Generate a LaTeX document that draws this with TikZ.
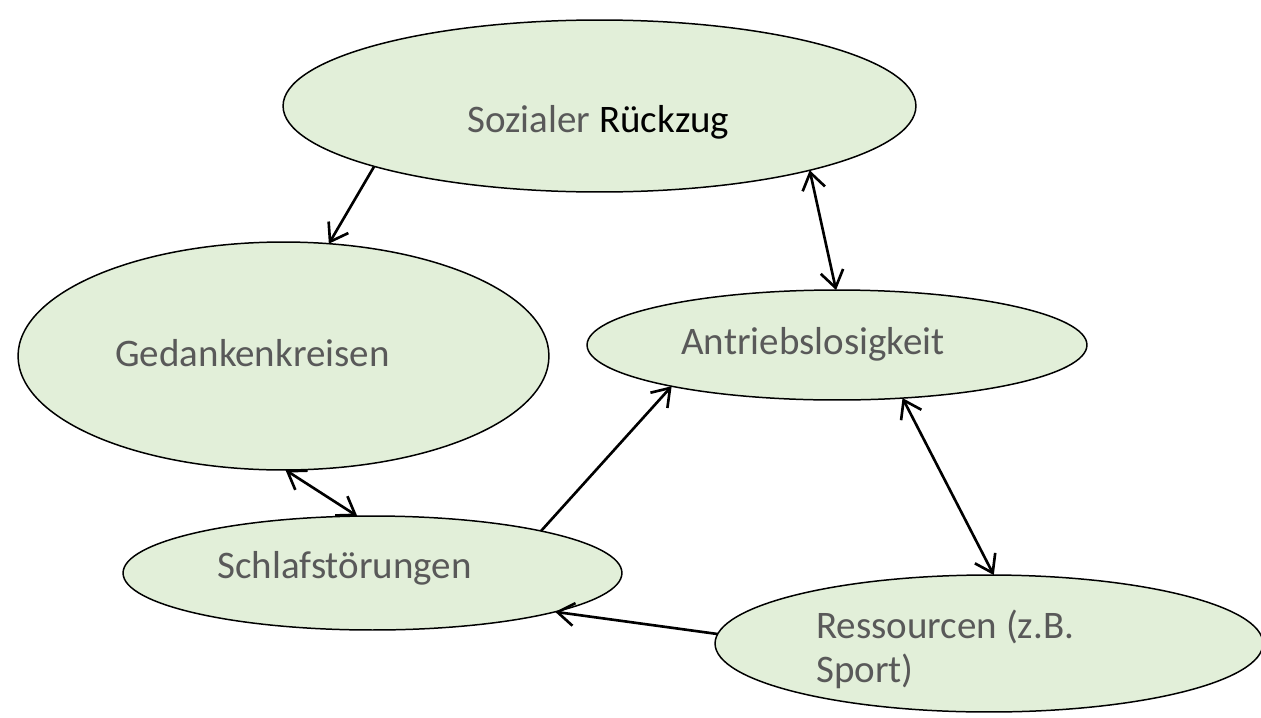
\documentclass[tikz,border=0pt]{standalone}
\usepackage{fontspec}
\setmainfont{Carlito}
\usetikzlibrary{arrows.meta,shapes.geometric}
\definecolor{bubble}{HTML}{E2EFD9}
\definecolor{txtgray}{HTML}{595959}
\tikzset{
    blob/.style={ellipse, draw, fill=bubble, line width=0.85pt, inner sep=0, outer sep=0},
    word/.style={anchor=base west, inner sep=0, text=txtgray, font=\fontsize{22.2}{24.5}\selectfont},
    post/.style= {-{Straight Barb[length=9.5pt,width=13pt]}, line width=1.5pt},
    both/.style= {{Straight Barb[length=9.5pt,width=13pt]}-{Straight Barb[length=9.5pt,width=13pt]}, line width=1.5pt},
  }
\begin{document}
\begin{tikzpicture}[x=0.02cm, y=-0.02cm]
  \useasboundingbox (0,0) rectangle (1261,717);
  % bubbles
  \node (soz)   [blob, minimum width=12.66cm, minimum height=3.44cm] at (599.5,106) {};
  \node (ged)   [blob, minimum width=10.62cm, minimum height=4.56cm] at (283.5,356) {};
  \node (antr)  [blob, minimum width=10cm, minimum height=2.2cm] at (837,345) {};
  \node (schl)  [blob, minimum width=9.98cm, minimum height=2.28cm] at (372.5,573) {};
  \node (res)   [blob, minimum width=10.96cm, minimum height=2.74cm] at (989,643.5) {};
  % texts
  \node (soz-t)  [word] at (467,132) {Sozialer \textcolor{black}{Rückzug}};
  \node (ged-t)  [word] at (115,366) {Gedankenkreisen};
  \node (antr-t) [word] at (681,354) {Antriebslosigkeit};
  \node (schl-t) [word] at (217,578) {Schlafstörungen};
  \node (res-t)  [word, align=left] at (816,682) {Ressourcen (z.B.\\Sport)};
  % arrows
  \draw (soz.195)  edge [post] (ged.68)
        (soz.343)  edge [both] (antr.91)
        (ged.271)  edge [both] (schl.105)
        (schl.14)  edge [post] (antr.194)
        (antr.321) edge [both] (res.86)
        (res.178)  edge [post] (schl.348);
\end{tikzpicture}
\end{document}
